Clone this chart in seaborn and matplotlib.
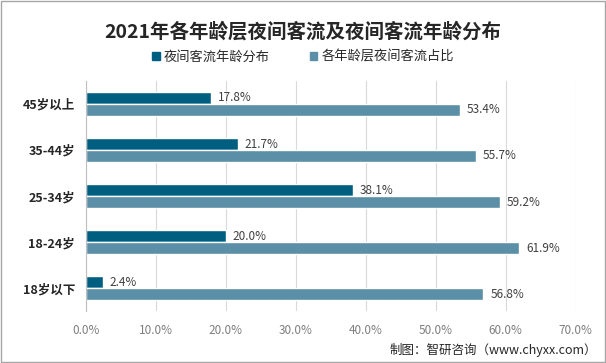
import matplotlib
matplotlib.use('Agg')
import matplotlib.pyplot as plt
import seaborn as sns
import pandas as pd

# data
ages = ['45岁以上', '35-44岁', '25-34岁', '18-24岁', '18岁以下']
dist = [17.8, 21.7, 38.1, 20.0, 2.4]     # 夜间客流年龄分布
share = [53.4, 55.7, 59.2, 61.9, 56.8]   # 各年龄层夜间客流占比
series = ['夜间客流年龄分布', '各年龄层夜间客流占比']
x_ticks = [0, 10, 20, 30, 40, 50, 60, 70]

df = pd.DataFrame({
    'age': ages * 2,
    'value': dist + share,
    'series': [series[0]] * len(ages) + [series[1]] * len(ages),
})

sns.set_theme(style='white')
plt.rcParams['font.family'] = ['Noto Sans CJK SC', 'DejaVu Sans']

fig = plt.figure(figsize=(6.06, 3.63), dpi=100)
ax = fig.add_axes([0.142, 0.143, 0.808, 0.634])

colors = ['#005f80', '#5b8fa8']
sns.barplot(data=df, y='age', x='value', hue='series', order=ages,
            hue_order=series, palette=colors, orient='h', width=0.52,
            saturation=1, ax=ax, legend=False)

for cont in ax.containers:
    ax.bar_label(cont, fmt='%.1f%%', padding=5, fontsize=8.5, color='#404040')

ax.set_xlim(0, 70)
ax.set_xticks(x_ticks)
ax.set_xticklabels([f'{t:.1f}%' for t in x_ticks], fontsize=8.5, color='#7f7f7f')
ax.tick_params(axis='x', length=0, pad=9)
ax.tick_params(axis='y', length=0, pad=8)
for lab in ax.get_yticklabels():
    lab.set_fontsize(9)
    lab.set_fontweight('bold')
    lab.set_color('#262626')
ax.set_xlabel('')
ax.set_ylabel('')
ax.grid(axis='x', color='#d9d9d9', linewidth=0.8)
ax.set_axisbelow(True)
for s in ['top', 'right', 'bottom']:
    ax.spines[s].set_visible(False)
ax.spines['left'].set_color('#bfbfbf')
ax.spines['left'].set_linewidth(0.8)

# legend
handles = [plt.Rectangle((0, 0), 1, 1, color=c) for c in colors]
fig.legend(handles, series, loc='center', bbox_to_anchor=(0.5, 0.843), ncol=2,
           frameon=False, fontsize=9.5, handlelength=0.6, handleheight=0.6,
           handletextpad=0.3, columnspacing=3.0)

fig.text(0.5, 0.912, '2021年各年龄层夜间客流及夜间客流年龄分布', ha='center', va='center',
         fontsize=14, fontweight='bold', color='#262626')
fig.text(0.985, 0.035, '制图：智研咨询（www.chyxx.com）', ha='right', va='center',
         fontsize=9, color='#262626')

# outer frame
fig.patches.append(plt.Rectangle((0.002, 0.003), 0.996, 0.994, transform=fig.transFigure,
                                 fill=False, edgecolor='#a6a6a6', linewidth=1))

fig.savefig('out.png', dpi=100)
plt.close(fig)
